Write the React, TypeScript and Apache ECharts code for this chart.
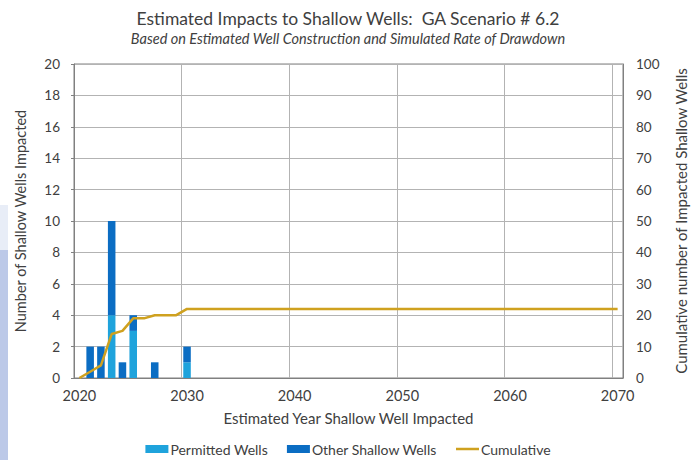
import React, { useEffect, useRef } from "react";
import * as echarts from "echarts";

const years: string[] = [
  "2020","2021","2022","2023","2024","2025","2026","2027","2028","2029",
  "2030","2031","2032","2033","2034","2035","2036","2037","2038","2039",
  "2040","2041","2042","2043","2044","2045","2046","2047","2048","2049",
  "2050","2051","2052","2053","2054","2055","2056","2057","2058","2059",
  "2060","2061","2062","2063","2064","2065","2066","2067","2068","2069",
  "2070",
];

const barYears: string[] = ["2021", "2022", "2023", "2024", "2025", "2027", "2030"];
const permittedWells: number[] = [0, 0, 4, 0, 3, 0, 1];
const otherShallowWells: number[] = [2, 2, 6, 1, 1, 1, 1];

const cumulative: number[] = [
  0, 2, 4, 14, 15, 19, 19, 20, 20, 20,
  22, 22, 22, 22, 22, 22, 22, 22, 22, 22,
  22, 22, 22, 22, 22, 22, 22, 22, 22, 22,
  22, 22, 22, 22, 22, 22, 22, 22, 22, 22,
  22, 22, 22, 22, 22, 22, 22, 22, 22, 22,
  22,
];

const leftTicks = { min: 0, max: 20, interval: 2 };
const rightTicks = { min: 0, max: 100, interval: 10 };

const FONT = "Lato, 'Noto Sans', sans-serif";
const TEXT = "#404040";
const LINE_COLOR = "#CFA11F";

export default function App() {
  const ref = useRef<HTMLDivElement>(null);

  useEffect(() => {
    if (!ref.current) return;
    const chart = echarts.init(ref.current, undefined, { renderer: "svg" });
    const tenth = (i: number) => i % 10 === 0;
    chart.setOption({
      animation: false,
      textStyle: { fontFamily: FONT },
      title: {
        text: "Estimated Impacts to Shallow Wells:  GA Scenario # 6.2",
        subtext: "Based on Estimated Well Construction and Simulated Rate of Drawdown",
        left: "center",
        top: 4,
        itemGap: 4,
        textStyle: { fontFamily: FONT, fontSize: 17.5, fontWeight: "normal", color: TEXT },
        subtextStyle: { fontFamily: FONT, fontSize: 14.5, fontStyle: "italic", color: TEXT },
      },
      legend: {
        bottom: -1,
        left: "center",
        itemWidth: 23,
        itemHeight: 8,
        itemGap: 19,
        textStyle: { fontFamily: FONT, fontSize: 14, color: TEXT, padding: [0, 0, 0, -3] },
        data: [
          { name: "Permitted Wells", icon: "rect" },
          { name: "Other Shallow Wells", icon: "rect" },
          { name: "Cumulative", icon: "path://M0,0H92V10H0Z" },
        ],
      },
      grid: {
        left: 74,
        right: 72,
        top: 64,
        bottom: 82,
        show: true,
        borderColor: "#808080",
        borderWidth: 1,
      },
      xAxis: {
        type: "category",
        data: years,
        boundaryGap: true,
        name: "Estimated Year Shallow Well Impacted",
        nameLocation: "middle",
        nameGap: 32,
        nameTextStyle: { fontFamily: FONT, fontSize: 15, color: TEXT },
        axisLine: { lineStyle: { color: "#808080" } },
        axisTick: { interval: tenth, length: 5, lineStyle: { color: "#808080" } },
        axisLabel: { interval: tenth, margin: 10, fontSize: 14.5, color: TEXT, fontFamily: FONT },
        splitLine: { show: true, interval: tenth, lineStyle: { color: "#B3B3B3" } },
      },
      yAxis: [
        {
          type: "value",
          ...leftTicks,
          name: "Number of Shallow Wells Impacted",
          nameLocation: "middle",
          nameGap: 46,
          nameTextStyle: { fontFamily: FONT, fontSize: 14.5, color: TEXT },
          axisLine: { show: true, lineStyle: { color: "#808080" } },
          axisTick: { show: true, length: 3, lineStyle: { color: "#808080" } },
          axisLabel: { margin: 14, fontSize: 13.5, color: TEXT, fontFamily: FONT },
          splitLine: { show: true, lineStyle: { color: "#B3B3B3" } },
        },
        {
          type: "value",
          ...rightTicks,
          position: "right",
          name: "Cumulative number of Impacted Shallow Wells",
          nameLocation: "middle",
          nameGap: 50,
          nameRotate: 90,
          nameTextStyle: { fontFamily: FONT, fontSize: 15, color: TEXT },
          axisLine: { show: true, lineStyle: { color: "#808080" } },
          axisTick: { show: false },
          axisLabel: { margin: 13, fontSize: 13.5, color: TEXT, fontFamily: FONT },
          splitLine: { show: false },
        },
      ],
      graphic: [
        { type: "rect", shape: { x: 0, y: 205, width: 8, height: 45 }, style: { fill: "#E8EDF7" } },
        { type: "rect", shape: { x: 0, y: 250, width: 8, height: 210 }, style: { fill: "#BCC9E8" } },
      ],
      series: [
        {
          name: "Permitted Wells",
          type: "bar",
          stack: "wells",
          yAxisIndex: 0,
          barWidth: "70%",
          itemStyle: { color: "#1FA3DC" },
          data: barYears.map((y, i) => [y, permittedWells[i]]),
        },
        {
          name: "Other Shallow Wells",
          type: "bar",
          stack: "wells",
          yAxisIndex: 0,
          barWidth: "70%",
          itemStyle: { color: "#0B6DC3" },
          data: barYears.map((y, i) => [y, otherShallowWells[i]]),
        },
        {
          name: "Cumulative",
          type: "line",
          yAxisIndex: 1,
          symbol: "none",
          lineStyle: { color: LINE_COLOR, width: 2.5 },
          itemStyle: { color: LINE_COLOR },
          data: cumulative,
          z: 5,
        },
      ],
    });
    return () => chart.dispose();
  }, []);

  return (
    <div
      ref={ref}
      style={{ position: "absolute", left: 0, top: 0, width: 696, height: 460 }}
    />
  );
}
